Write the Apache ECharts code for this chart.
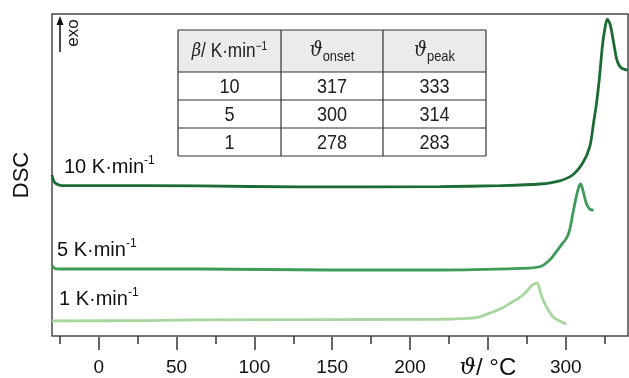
<!DOCTYPE html>
<html>
<head>
<meta charset="utf-8">
<script src="https://cdn.jsdelivr.net/npm/echarts@6/dist/echarts.min.js"></script>
<style>
  html, body { margin: 0; padding: 0; background: #fff; }
  #chart { width: 629px; height: 378px; }
</style>
</head>
<body>
<div id="chart"></div>
<script>
// DSC traces at three heating rates (temperature in °C, heat flow in arbitrary units, exo up)
const temps10 = [-30, -28.9, -27, -23.8, 0, 65, 129, 219, 257.5, 283.3, 296.1, 304.4, 310.9, 315.4, 317.9, 319.8, 321.5, 323.5, 325, 326.7, 328.6, 330.8, 332.9, 335.7, 339.8];
const dsc10   = [50.0, 48.1, 47.2, 46.7, 46.7, 46.6, 46.3, 46.4, 46.7, 47.2, 48.2, 50.0, 53.7, 58.7, 66.2, 72.4, 79.5, 89.8, 95.0, 98.4, 96.6, 91.0, 85.7, 83.2, 82.6];

const temps5 = [-30, -28.3, -25, 65, 148, 219, 270.4, 283.3, 289.7, 294, 297.2, 300.4, 302.5, 304.6, 306.8, 308.5, 309.6, 311, 313.2, 315.4, 317.9];
const dsc5   = [22.0, 21.0, 20.8, 20.8, 20.5, 20.5, 21.0, 21.5, 23.6, 26.2, 28.3, 30.3, 32.9, 38.1, 43.3, 46.4, 47.2, 45.3, 41.2, 39.4, 39.1];

const temps1 = [-30, 32.8, 65, 219, 242.6, 251.1, 259.7, 266.1, 272.5, 277.9, 280, 281.6, 284.3, 287.5, 291.8, 296, 300.3];
const dsc1   = [4.7, 4.8, 5.0, 5.2, 5.7, 7.1, 8.8, 10.7, 12.7, 15.5, 16.2, 16.5, 12.7, 9.1, 6.0, 4.7, 3.7];

// Axis ticks
const minorTicks = [-25, 25, 75, 125, 175, 225, 275, 325];
const majorTicks = [0, 50, 100, 150, 200, 250, 300];
const tickLabels = [0, 50, 100, 150, 200, 250, 300];
const axisTitleAt = 250;

// Characteristic temperatures
const rateRows  = ['10', '5', '1'];
const onsetRows = [317, 300, 278];
const peakRows  = [333, 314, 283];

const curveLabels = ['10', '5', '1'];

const colDark = '#1d6b34', colMid = '#3f9b58', colLight = '#a7d79f';
const font = 'Liberation Sans, Arial, sans-serif';

function pairs(xs, ys) { return xs.map((x, i) => [x, ys[i]]); }

const chart = echarts.init(document.getElementById('chart'), null, { renderer: 'canvas' });

// table geometry
const tX = [178, 281, 383, 486];
const tY = [30, 72, 100, 128, 156];
const tableEls = [];
tableEls.push({ type: 'rect', shape: { x: tX[0], y: tY[0], width: tX[3] - tX[0], height: tY[1] - tY[0] }, style: { fill: '#ebebeb' } });
tableEls.push({ type: 'rect', shape: { x: tX[0], y: tY[1], width: tX[3] - tX[0], height: tY[4] - tY[1] }, style: { fill: '#fff' } });
for (const y of tY) tableEls.push({ type: 'line', shape: { x1: tX[0], y1: y, x2: tX[3], y2: y }, style: { stroke: '#333', lineWidth: 1.2 } });
for (const x of tX) tableEls.push({ type: 'line', shape: { x1: x, y1: tY[0], x2: x, y2: tY[4] }, style: { stroke: '#333', lineWidth: 1.2 } });
const cellRich = {
  i: { fontFamily: 'DejaVu Serif, serif', fontStyle: 'italic', fontSize: 19, fill: '#222' },
  t: { fontFamily: 'DejaVu Serif, serif', fontStyle: 'italic', fontSize: 21, fill: '#222' },
  r: { fontFamily: font, fontSize: 20, fill: '#222' },
  sup: { fontFamily: font, fontSize: 12, fill: '#222', padding: [0, 0, 9, 0] },
  sub: { fontFamily: font, fontSize: 15, fill: '#222', padding: [11, 0, 0, 0] }
};
const hdr = ['{i|β}{r|/ K·min}{sup|−1}', '{t|ϑ}{sub|onset}', '{t|ϑ}{sub|peak}'];
hdr.forEach((h, c) => {
  tableEls.push({ type: 'text', x: (tX[c] + tX[c + 1]) / 2, y: (tY[0] + tY[1]) / 2, scaleX: 0.86,
    style: { text: h, align: 'center', verticalAlign: 'middle', rich: cellRich } });
});
rateRows.forEach((r, k) => {
  const vals = [r, String(onsetRows[k]), String(peakRows[k])];
  vals.forEach((v, c) => {
    tableEls.push({ type: 'text', x: (tX[c] + tX[c + 1]) / 2, y: (tY[k + 1] + tY[k + 2]) / 2 + 1, scaleX: 0.86,
      style: { text: v, align: 'center', verticalAlign: 'middle', font: '21px ' + font, fill: '#222' } });
  });
});

const labelRich = {
  r: { fontFamily: font, fontSize: 20, fill: '#111' },
  sup: { fontFamily: font, fontSize: 12, fill: '#111', padding: [0, 0, 12, 0] }
};
const labelPos = [[64, 167], [57, 250], [59, 299]];

const option = {
  animation: false,
  backgroundColor: '#fff',
  grid: {
    left: 52, top: 14, width: 576, height: 322, outerBoundsMode: 'none', containLabel: false,
    show: true, borderColor: '#4a4a4a', borderWidth: 1.5, backgroundColor: '#fff'
  },
  xAxis: [
    {
      type: 'value', min: -30, max: 340, position: 'bottom', offset: 1,
      axisLine: { show: false }, splitLine: { show: false },
      axisTick: { show: true, customValues: minorTicks, length: 8, lineStyle: { color: '#333', width: 1.5 } },
      axisLabel: { show: false }
    },
    {
      type: 'value', min: -30, max: 340, position: 'bottom', offset: 1,
      axisLine: { show: false }, splitLine: { show: false },
      axisTick: { show: true, customValues: majorTicks, length: 13, lineStyle: { color: '#333', width: 1.5 } },
      axisLabel: {
        show: true, customValues: tickLabels, margin: 31, verticalAlign: 'middle',
        color: '#111', fontFamily: font, fontSize: 19,
        formatter: v => v === axisTitleAt ? '{th|ϑ}{u|/ °C}' : String(v),
        rich: {
          th: { fontFamily: 'DejaVu Serif, serif', fontStyle: 'italic', fontSize: 23, color: '#111', verticalAlign: 'middle' },
          u: { fontFamily: font, fontSize: 24, color: '#111', verticalAlign: 'middle' }
        }
      }
    }
  ],
  yAxis: { type: 'value', min: 0, max: 100, show: false },
  series: [
    { type: 'line', xAxisIndex: 1, data: pairs(temps10, dsc10), showSymbol: false, smooth: 0.3, lineStyle: { color: colDark, width: 2.8 }, z: 3 },
    { type: 'line', xAxisIndex: 1, data: pairs(temps5, dsc5), showSymbol: false, smooth: 0.3, lineStyle: { color: colMid, width: 2.8 }, z: 2 },
    { type: 'line', xAxisIndex: 1, data: pairs(temps1, dsc1), showSymbol: false, smooth: 0.3, lineStyle: { color: colLight, width: 2.8 }, z: 1 }
  ],
  graphic: [
    { type: 'text', x: 22, y: 175, rotation: Math.PI / 2,
      style: { text: 'DSC', align: 'center', verticalAlign: 'middle', font: '22px ' + font, fill: '#111' } },
    { type: 'line', shape: { x1: 60, y1: 52, x2: 60, y2: 22 }, style: { stroke: '#111', lineWidth: 1.5 } },
    { type: 'polygon', shape: { points: [[60, 16], [56.5, 25], [63.5, 25]] }, style: { fill: '#111' } },
    { type: 'text', x: 73, y: 33, rotation: Math.PI / 2,
      style: { text: 'exo', align: 'center', verticalAlign: 'middle', font: '17px ' + font, fill: '#111' } },
    ...curveLabels.map((c, k) => ({
      type: 'text', x: labelPos[k][0], y: labelPos[k][1],
      style: { text: '{r|' + c + ' K·min}{sup|-1}', align: 'left', verticalAlign: 'middle', rich: labelRich }
    })),
    { type: 'group', children: tableEls }
  ]
};
chart.setOption(option);
</script>
</body>
</html>
